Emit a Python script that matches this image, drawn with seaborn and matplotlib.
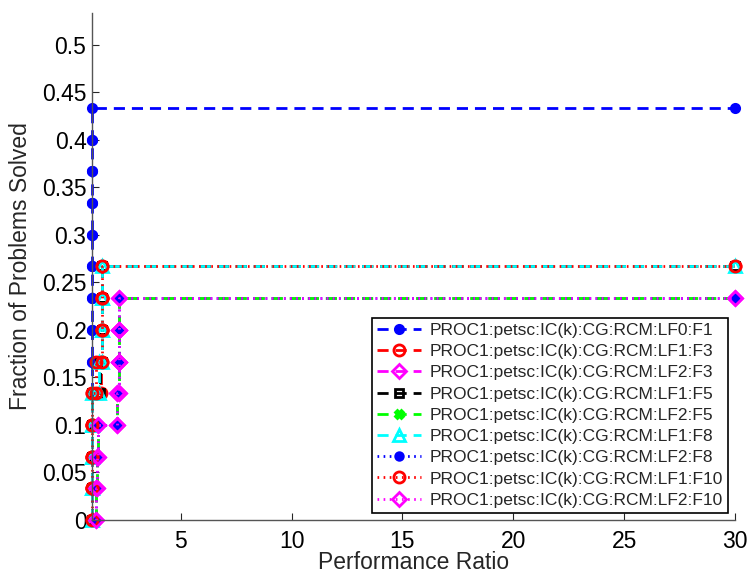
import matplotlib
matplotlib.use("Agg")
import matplotlib.pyplot as plt
import seaborn as sns
import pandas as pd

sns.set_theme(style="white")
plt.rcParams['font.family'] = ['Liberation Sans', 'DejaVu Sans']

# ---- data (performance ratios per solver, 30 problems) ----
n_problems = 30
tau_max = 30
labels = [
    "PROC1:petsc:IC(k):CG:RCM:LF0:F1",
    "PROC1:petsc:IC(k):CG:RCM:LF1:F3",
    "PROC1:petsc:IC(k):CG:RCM:LF2:F3",
    "PROC1:petsc:IC(k):CG:RCM:LF1:F5",
    "PROC1:petsc:IC(k):CG:RCM:LF2:F5",
    "PROC1:petsc:IC(k):CG:RCM:LF1:F8",
    "PROC1:petsc:IC(k):CG:RCM:LF2:F8",
    "PROC1:petsc:IC(k):CG:RCM:LF1:F10",
    "PROC1:petsc:IC(k):CG:RCM:LF2:F10",
]
ratios_lf0_f1 = [1.0] * 13
ratios_lf1_f3 = [1.0, 1.0, 1.0, 1.02, 1.4, 1.45, 1.45, 1.45]
ratios_lf2_f3 = [1.2, 1.22, 1.25, 2.15, 2.2, 2.2, 2.2]
ratios_lf1_f5 = [1.0, 1.0, 1.0, 1.02, 1.35, 1.45, 1.45, 1.45]
ratios_lf2_f5 = [1.2, 1.22, 1.25, 2.15, 2.2, 2.2, 2.2]
ratios_lf1_f8 = [1.0, 1.0, 1.0, 1.02, 1.3, 1.45, 1.45, 1.45]
ratios_lf2_f8 = [1.2, 1.22, 1.25, 2.15, 2.2, 2.2, 2.2]
ratios_lf1_f10 = [1.0, 1.0, 1.0, 1.0, 1.2, 1.45, 1.45, 1.45]
ratios_lf2_f10 = [1.2, 1.22, 1.25, 2.15, 2.2, 2.2, 2.2]
all_ratios = [ratios_lf0_f1, ratios_lf1_f3, ratios_lf2_f3, ratios_lf1_f5,
              ratios_lf2_f5, ratios_lf1_f8, ratios_lf2_f8, ratios_lf1_f10,
              ratios_lf2_f10]
y_ticks = [0, 0.05, 0.1, 0.15, 0.2, 0.25, 0.3, 0.35, 0.4, 0.45, 0.5]
x_ticks = [5, 10, 15, 20, 25, 30]

# ---- styles ----
colors = ["#0000ff", "#ff0000", "#ff00ff", "#000000", "#00ff00",
          "#00ffff", "#0000ff", "#ff0000", "#ff00ff"]
dash = (0, (4, 2.5))
dot = (0, (0.6, 1.6))
linestyles = [dash, dash, dash, dash, dash, dash, dot, dot, dot]
markers = ["o", "o", "D", "s", "X", "^", "o", "o", "D"]
filled = [True, False, False, False, True, False, True, False, False]
msizes = [6, 8, 7, 6, 6, 8, 5.5, 8, 7]

fig = plt.figure(figsize=(7.5, 5.74), dpi=100)
ax = fig.add_axes([92 / 750, 1 - 520 / 574, (735 - 92) / 750, (520 - 13) / 574])

for lab, r, c, ls, mk, fl, ms in zip(labels, all_ratios, colors, linestyles,
                                      markers, filled, msizes):
    xs, ys = [], []
    for i, v in enumerate(r):
        xs += [v, v]
        ys += [i / n_problems, (i + 1) / n_problems]
    xs.append(tau_max)
    ys.append(len(r) / n_problems)
    df = pd.DataFrame({"x": xs, "y": ys})
    sns.lineplot(data=df, x="x", y="y", sort=False, estimator=None, ax=ax,
                 color=c, linewidth=2, linestyle=ls, marker=mk,
                 markersize=ms, markeredgewidth=2, markeredgecolor=c,
                 markerfacecolor=(c if fl else "none"), label=lab,
                 clip_on=False)

ax.set_xlim(1, 30)
ax.set_ylim(0, 0.5333)
ax.set_xticks(x_ticks)
ax.set_yticks(y_ticks)
ax.set_xticklabels([f"{t:g}" for t in x_ticks])
ax.set_yticklabels([f"{t:g}" for t in y_ticks])
ax.tick_params(direction="in", length=5, width=0.8, labelsize=16.5,
               colors="#262626", labelcolor="black", left=True, bottom=True)
ax.tick_params(axis="x", pad=7)
ax.tick_params(axis="y", pad=4)
for s in ["top", "right"]:
    ax.spines[s].set_visible(False)
for s in ["left", "bottom"]:
    ax.spines[s].set_color("#555555")
    ax.spines[s].set_linewidth(1.0)
ax.set_xlabel("Performance Ratio", fontsize=16.5, labelpad=-1)
ax.set_ylabel("Fraction of Problems Solved", fontsize=16.5, labelpad=7)

leg = ax.legend(loc="lower right", bbox_to_anchor=(728 / 750, 1 - 513 / 574),
                bbox_transform=fig.transFigure, borderaxespad=0,
                fontsize=12.5, frameon=True, fancybox=False, framealpha=1,
                edgecolor="black", handlelength=2.5, handletextpad=0.5,
                labelspacing=0.35, borderpad=0.3)
leg.get_frame().set_linewidth(1.2)

fig.savefig("out.png", dpi=100)
